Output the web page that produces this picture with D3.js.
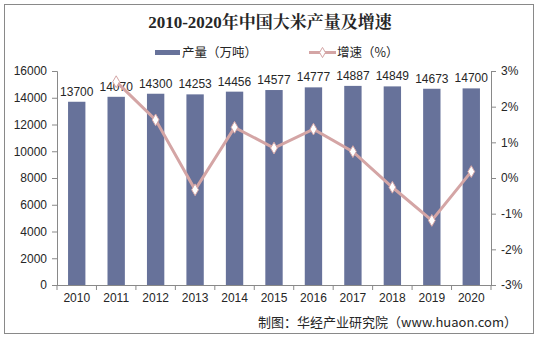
<!DOCTYPE html>
<html><head><meta charset="utf-8">
<script src="https://cdn.jsdelivr.net/npm/d3@7/dist/d3.min.js"></script>
<style>body{margin:0;background:#fff}</style>
</head><body>
<script>
const years = ["2010","2011","2012","2013","2014","2015","2016","2017","2018","2019","2020"];
const output = [13700,14070,14300,14253,14456,14577,14777,14887,14849,14673,14700];
const growth = [null,2.7,1.63,-0.33,1.42,0.84,1.37,0.74,-0.26,-1.19,0.18];
const leftTicks = [0,2000,4000,6000,8000,10000,12000,14000,16000];
const rightTicks = [-3,-2,-1,0,1,2,3];

const W=539,H=342;
const svg=d3.select("body").append("svg").attr("width",W).attr("height",H);
svg.append("rect").attr("x",4.5).attr("y",4.5).attr("width",529).attr("height",329)
  .attr("fill","#fff").attr("stroke","#898989").attr("stroke-width",1);

const m={l:57,r:491,t:71,b:285};
const x=d3.scaleBand().domain(years).range([m.l,m.r]).paddingInner(0.56).paddingOuter(0.28);
const xb=d3.scaleBand().domain(years).range([m.l,m.r]);
const yL=d3.scaleLinear().domain([0,16000]).range([m.b,m.t]);
const yR=d3.scaleLinear().domain([-3,3]).range([m.b,m.t]);
const font="'Liberation Sans', Arial, sans-serif";
const cjk="'Noto Sans CJK SC', sans-serif";

// title
svg.append("text").attr("x",270).attr("y",28).attr("text-anchor","middle")
  .attr("font-family","'Liberation Serif','Noto Serif CJK SC','Noto Sans CJK SC',serif")
  .attr("font-weight","bold").attr("font-size",17).attr("fill","#262626")
  .text("2010-2020年中国大米产量及增速");

// legend
svg.append("rect").attr("x",155).attr("y",50).attr("width",25).attr("height",5).attr("fill","#67729a");
svg.append("text").attr("x",182).attr("y",57).attr("font-family",cjk).attr("font-size",12.5).attr("fill","#262626").text("产量（万吨）");
svg.append("line").attr("x1",309).attr("x2",336).attr("y1",52.5).attr("y2",52.5).attr("stroke","#d4a5a5").attr("stroke-width",3);
svg.append("path").attr("d",d3.symbol(d3.symbolDiamond,30)()).attr("transform","translate(322.5,52.5)")
  .attr("fill","#fff").attr("stroke","#d4a5a5").attr("stroke-width",1);
svg.append("text").attr("x",337).attr("y",57).attr("font-family",cjk).attr("font-size",12.5).attr("fill","#262626").text("增速（%）");

// bars
svg.selectAll(".bar").data(years).enter().append("rect")
  .attr("x",d=>x(d)).attr("width",x.bandwidth())
  .attr("y",(d,i)=>yL(output[i])).attr("height",(d,i)=>m.b-yL(output[i]))
  .attr("fill","#67729a");
svg.selectAll(".lbl").data(years).enter().append("text")
  .attr("x",d=>x(d)+x.bandwidth()/2).attr("y",(d,i)=>yL(output[i])-6)
  .attr("text-anchor","middle").attr("font-family",font).attr("font-size",12).attr("fill","#262626")
  .text((d,i)=>output[i]);

// axes
const axL=svg.append("g").attr("transform",`translate(${m.l},0)`)
  .call(d3.axisLeft(yL).tickValues(leftTicks).tickSize(5).tickFormat(d3.format("d")));
const axR=svg.append("g").attr("transform",`translate(${m.r},0)`)
  .call(d3.axisRight(yR).tickValues(rightTicks).tickSize(5).tickFormat(d=>d+"%"));
const axX=svg.append("g").attr("transform",`translate(0,${m.b})`)
  .call(d3.axisBottom(xb).tickSize(0).tickPadding(8));
[axL,axR,axX].forEach(g=>{
  g.selectAll("path,line").attr("stroke","#898989");
  g.selectAll("text").attr("font-family",font).attr("font-size",12).attr("fill","#262626");
});
axL.selectAll("text").attr("dx",-2);
axR.selectAll("text").attr("dx",2);
axX.select(".domain").attr("d",`M${m.l},0.5H${m.r}`);
axX.selectAll(".sep").data(d3.range(years.length+1)).enter().append("line")
  .attr("x1",i=>m.l+i*xb.step()).attr("x2",i=>m.l+i*xb.step()).attr("y1",0).attr("y2",5).attr("stroke","#898989");

// line
const pts=years.map((d,i)=>({d,v:growth[i]})).filter(p=>p.v!==null);
svg.append("path").datum(pts).attr("fill","none").attr("stroke","#d4a5a5").attr("stroke-width",3)
  .attr("d",d3.line().x(p=>xb(p.d)+xb.bandwidth()/2).y(p=>yR(p.v)));
svg.selectAll(".mk").data(pts).enter().append("path")
  .attr("d",d3.symbol(d3.symbolDiamond,40)())
  .attr("transform",p=>`translate(${xb(p.d)+xb.bandwidth()/2},${yR(p.v)})`)
  .attr("fill","#fff").attr("stroke","#d4a5a5").attr("stroke-width",1);

// source
svg.append("text").attr("x",517).attr("y",327).attr("text-anchor","end")
  .attr("font-family",cjk).attr("font-size",13).attr("fill","#262626")
  .text("制图：华经产业研究院（www.huaon.com）");
</script>
</body></html>
